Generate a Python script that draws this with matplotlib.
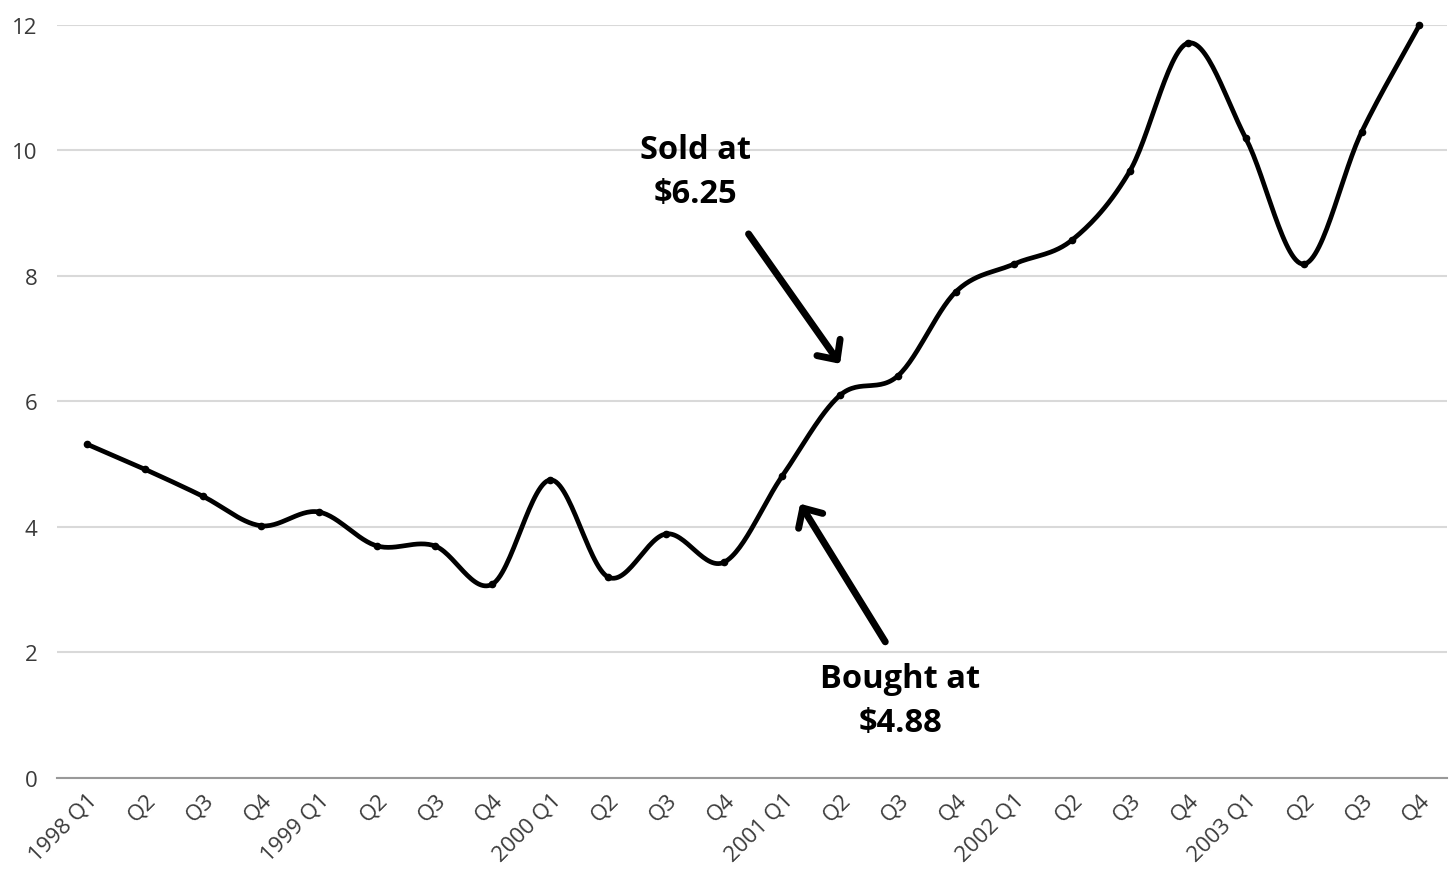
import numpy as np
import matplotlib.pyplot as plt

labels = ['1998 Q1', 'Q2', 'Q3', 'Q4', '1999 Q1', 'Q2', 'Q3', 'Q4',
          '2000 Q1', 'Q2', 'Q3', 'Q4', '2001 Q1', 'Q2', 'Q3', 'Q4',
          '2002 Q1', 'Q2', 'Q3', 'Q4', '2003 Q1', 'Q2', 'Q3', 'Q4']
price = [5.32, 4.92, 4.49, 4.02, 4.24, 3.70, 3.70, 3.09,
         4.75, 3.20, 3.89, 3.44, 4.81, 6.10, 6.41, 7.75,
         8.19, 8.57, 9.67, 11.71, 10.20, 8.19, 10.29, 12.00]


def smooth(y, n=30):
    # cubic hermite (catmull-rom) through the points, like the office-chart smoothed line
    y = np.asarray(y, dtype=float)
    m = np.gradient(y)
    xs, ys = [], []
    for i in range(len(y) - 1):
        t = np.linspace(0, 1, n, endpoint=False)
        h00 = 2*t**3 - 3*t**2 + 1
        h10 = t**3 - 2*t**2 + t
        h01 = -2*t**3 + 3*t**2
        h11 = t**3 - t**2
        xs.append(i + t)
        ys.append(h00*y[i] + h10*m[i] + h01*y[i+1] + h11*m[i+1])
    xs.append([len(y) - 1])
    ys.append([y[-1]])
    return np.concatenate(xs), np.concatenate(ys)


plt.rcParams['font.family'] = ['Open Sans', 'DejaVu Sans']

fig = plt.figure(figsize=(14.56, 8.95), dpi=100)
ax = fig.add_axes([0.039, 0.1296, 0.955, 0.8414])

x = np.arange(len(price))
sx, sy = smooth(price)
ax.plot(sx, sy, color='black', lw=3.4, solid_capstyle='round', clip_on=False, zorder=3)
ax.plot(x, price, 'o', color='black', ms=4.5, clip_on=False, zorder=4)

ax.set_xlim(-0.52, 23.48)
ax.set_ylim(0, 12)
ax.set_yticks([0, 2, 4, 6, 8, 10, 12])
ax.yaxis.grid(True, color='#d9d9d9', lw=1.5)
ax.set_axisbelow(True)
for s in ['top', 'right', 'left']:
    ax.spines[s].set_visible(False)
ax.spines['bottom'].set_color('#999999')
ax.spines['bottom'].set_linewidth(1.5)
ax.tick_params(axis='both', length=0, labelsize=16, colors='#3a3a3a')
ax.tick_params(axis='y', pad=14)
ax.set_xticks(x)
ax.set_xticklabels(labels, rotation=45, ha='right', va='top', rotation_mode='anchor')
ax.tick_params(axis='x', pad=8)

tfont = dict(fontsize=23.5, fontweight='bold', color='black', ha='center', va='center',
             linespacing=1.45)
ax.text(10.5, 9.67, 'Sold at\n$6.25', **tfont)
ax.text(14.04, 1.23, 'Bought at\n$4.88', **tfont)

arrow = dict(arrowstyle='->,head_length=0.36,head_width=0.34', color='black', lw=5,
             mutation_scale=30, shrinkA=0, shrinkB=0, capstyle='round', joinstyle='round')
ax.annotate('', xy=(13.0, 6.6), xytext=(11.42, 8.67), arrowprops=arrow)
ax.annotate('', xy=(12.31, 4.37), xytext=(13.78, 2.17), arrowprops=arrow)

fig.savefig('out.png', dpi=100)
